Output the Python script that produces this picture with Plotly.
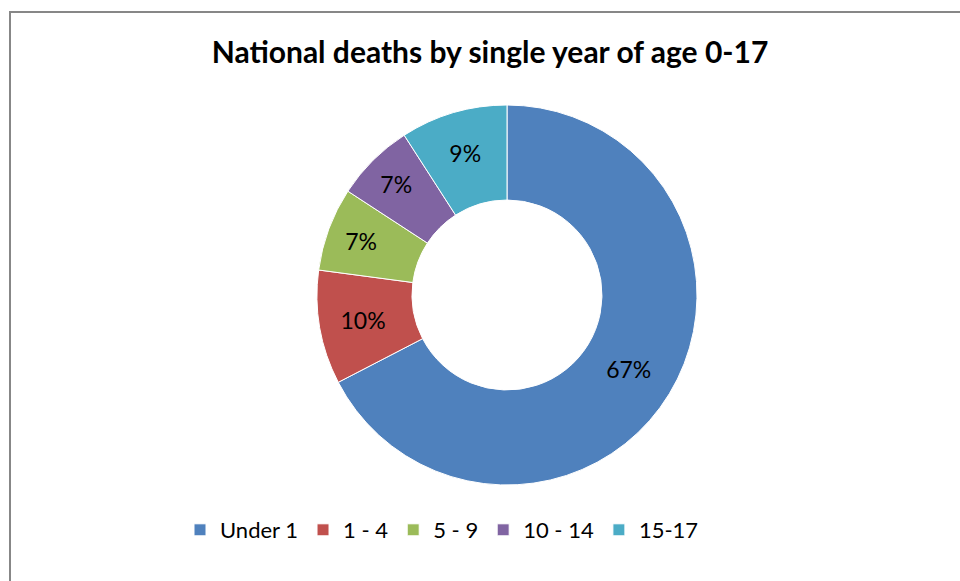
import plotly.graph_objects as go

labels = ["Under 1", "1 - 4", "5 - 9", "10 - 14", "15-17"]
values = [67.4, 9.7, 7.1, 6.7, 9.1]
colors = ["#4F81BD", "#C0504D", "#9BBB59", "#8064A2", "#4BACC6"]
title_text = "National deaths by single year of age 0-17"

W, H = 960, 581
cx, cy, r = 507, 295, 190

fig = go.Figure(go.Pie(
    labels=labels,
    values=values,
    hole=0.5,
    sort=False,
    direction="clockwise",
    rotation=0,
    marker=dict(colors=colors, line=dict(color="white", width=1)),
    texttemplate="%{percent:.0%}",
    textposition="inside",
    insidetextorientation="horizontal",
    textfont=dict(family="Lato, sans-serif", size=23, color="black"),
    domain=dict(x=[(cx - r) / W, (cx + r) / W], y=[(H - cy - r) / H, (H - cy + r) / H]),
))

fig.update_layout(
    width=W, height=H,
    margin=dict(l=0, r=0, t=0, b=0),
    paper_bgcolor="white",
    title=dict(text="<b>" + title_text + "</b>", x=490 / W, xanchor="center",
               y=(H - 52) / H, yanchor="middle",
               font=dict(family="Lato, sans-serif", size=30, color="black")),
    legend=dict(orientation="h", x=(196 - 16) / W, xanchor="left", y=(H - 530) / H, yanchor="middle",
                font=dict(family="Lato, sans-serif", size=22, color="black"),
                itemwidth=30, traceorder="normal"),
    showlegend=True,
    shapes=[dict(type="rect", xref="paper", yref="paper",
                 x0=10 / W, x1=1.02, y0=-0.02, y1=(H - 12) / H,
                 line=dict(color="#878787", width=2), fillcolor="rgba(0,0,0,0)")],
)

fig.write_html("out.html", config={"displayModeBar": False},
               post_script="document.body.style.margin='0';document.body.style.overflow='hidden';")
